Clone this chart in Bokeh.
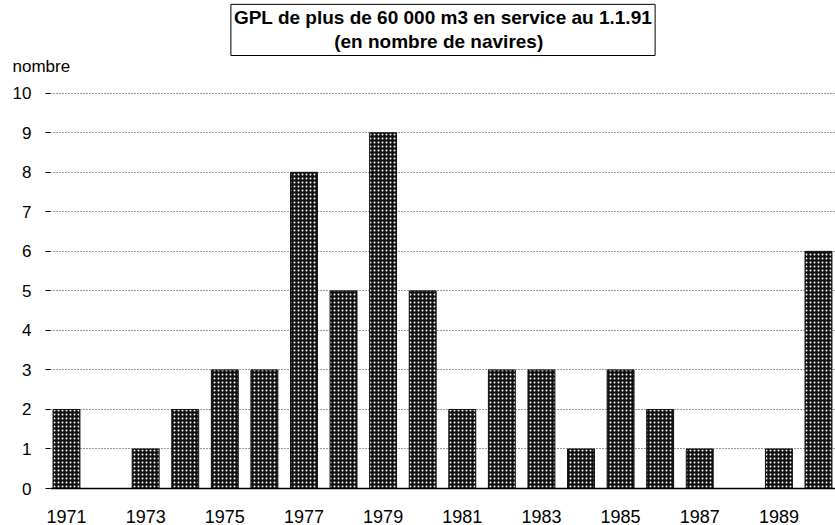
from bokeh.plotting import figure
from bokeh.models import Range1d, FixedTicker, Title
from bokeh.embed import file_html
from bokeh.resources import INLINE

years = [1971, 1972, 1973, 1974, 1975, 1976, 1977, 1978, 1979, 1980,
         1981, 1982, 1983, 1984, 1985, 1986, 1987, 1988, 1989, 1990]
navires = [2, 0, 1, 2, 3, 3, 8, 5, 9, 5, 2, 3, 3, 1, 3, 2, 1, 0, 1, 6]
x_ticks = [1971, 1973, 1975, 1977, 1979, 1981, 1983, 1985, 1987, 1989]
y_ticks = list(range(0, 11))
title_line1 = "GPL de plus de 60 000 m3 en service au 1.1.91"
title_line2 = "(en nombre de navires)"
y_label = "nombre"

FONT = "Liberation Sans"
NB = "\u00a0"

p = figure(width=835, height=525, output_backend="svg", toolbar_location=None,
           x_range=Range1d(1970.596, 1990.43), y_range=Range1d(0, 10.02),
           min_border_left=50, min_border_right=0, min_border_top=92,
           min_border_bottom=37)
p.outline_line_color = None
p.background_fill_color = "white"
p.border_fill_color = "white"

# "nombre" label above the y axis (trailing empty line lifts it off the frame)
t0 = Title(text=y_label + "\n", align="left", offset=-38, text_font=FONT,
           text_font_size="17px", text_font_style="normal", text_color="black",
           text_line_height=0.85, standoff=0)
p.add_layout(t0, "above")

t = Title(text=title_line1 + "\n" + NB * 19 + title_line2, align="center",
          text_font=FONT, text_font_size="19px",
          text_font_style="bold", text_color="black", text_line_height=1.15,
          border_line_color="black", border_line_width=1, padding=3,
          background_fill_color="white", standoff=0)
p.add_layout(t, "above")

p.vbar(x=years, top=navires, width=0.68, bottom=0,
       fill_color="#111111", line_color="#111111", line_width=1,
       hatch_pattern="dot", hatch_color="white", hatch_scale=4, hatch_weight=1)

# axes
p.xaxis.ticker = FixedTicker(ticks=x_ticks)
p.xaxis.axis_line_color = "black"
p.xaxis.axis_line_width = 1.5
p.xaxis.major_tick_line_color = None
p.xaxis.minor_tick_line_color = None
p.xaxis.major_label_standoff = 15
p.xaxis.major_label_text_font = FONT
p.xaxis.major_label_text_font_size = "18px"
p.xaxis.major_label_text_color = "black"

p.yaxis.ticker = FixedTicker(ticks=y_ticks)
p.yaxis.axis_line_color = None
p.yaxis.major_tick_line_color = "black"
p.yaxis.major_tick_out = 5
p.yaxis.major_tick_in = 0
p.yaxis.minor_tick_line_color = None
p.yaxis.major_label_standoff = 14
p.yaxis.major_label_text_font = FONT
p.yaxis.major_label_text_font_size = "17px"
p.yaxis.major_label_text_color = "black"

p.xgrid.grid_line_color = None
p.ygrid.ticker = FixedTicker(ticks=y_ticks[1:])
p.ygrid.grid_line_color = "#333333"
p.ygrid.grid_line_dash = "1 2"
p.ygrid.grid_line_width = 1

open("out.html", "w").write(file_html(p, INLINE))
